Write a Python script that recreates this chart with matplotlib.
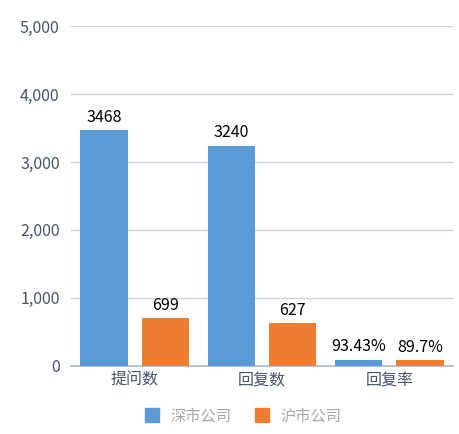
import matplotlib
matplotlib.use("Agg")
import matplotlib.pyplot as plt
from matplotlib.ticker import FuncFormatter
from matplotlib.lines import Line2D

plt.rcParams['font.family'] = ['Noto Sans CJK SC', 'DejaVu Sans']

categories = ['提问数', '回复数', '回复率']
series_names = ['深市公司', '沪市公司']
sz_values = [3468, 3240, 93.43]
sh_values = [699, 627, 89.7]
sz_labels = ['3468', '3240', '93.43%']
sh_labels = ['699', '627', '89.7%']
y_ticks = [0, 1000, 2000, 3000, 4000, 5000]

blue = '#5B9BD5'
orange = '#ED7D31'
tick_color = '#44546A'

fig = plt.figure(figsize=(4.6, 4.34), dpi=100)
ax = fig.add_axes([0.154, 0.157, 0.831, 0.783])

x = list(range(len(categories)))
w = 0.37
off = 0.24
b1 = ax.bar([i - off for i in x], sz_values, width=w, color=blue, zorder=3)
b2 = ax.bar([i + off for i in x], sh_values, width=w, color=orange, zorder=3)

for bars, labels in ((b1, sz_labels), (b2, sh_labels)):
    for rect, lab in zip(bars, labels):
        ax.annotate(lab, (rect.get_x() + rect.get_width() / 2, rect.get_height()),
                    xytext=(0, 3), textcoords='offset points', ha='center', va='bottom',
                    fontsize=11.5, color='#000000')

ax.set_xlim(-0.5, 2.5)
ax.set_ylim(0, 5000)
ax.set_yticks(y_ticks)
ax.yaxis.set_major_formatter(FuncFormatter(lambda v, p: f'{int(v):,}'))
ax.set_xticks(x)
ax.set_xticklabels(categories)
ax.tick_params(axis='y', length=0, pad=8, labelsize=11.5, labelcolor=tick_color)
ax.tick_params(axis='x', length=0, pad=4, labelsize=11.5, labelcolor=tick_color)
ax.grid(axis='y', color='#C9D3DF', linewidth=1, zorder=0)
for s in ('top', 'right', 'left'):
    ax.spines[s].set_visible(False)
ax.spines['bottom'].set_color('#A9B8C9')
ax.spines['bottom'].set_linewidth(1.2)

handles = [Line2D([], [], marker='s', linestyle='none', markersize=9.5, markerfacecolor=blue, markeredgecolor=blue),
           Line2D([], [], marker='s', linestyle='none', markersize=9.5, markerfacecolor=orange, markeredgecolor=orange)]
leg = fig.legend(handles, series_names, loc='center', bbox_to_anchor=(0.52, 0.042), ncol=2,
                 frameon=False, fontsize=11, handletextpad=0.2, columnspacing=1.0, labelcolor='#A6A6A6')

fig.savefig('out.png', dpi=100)
